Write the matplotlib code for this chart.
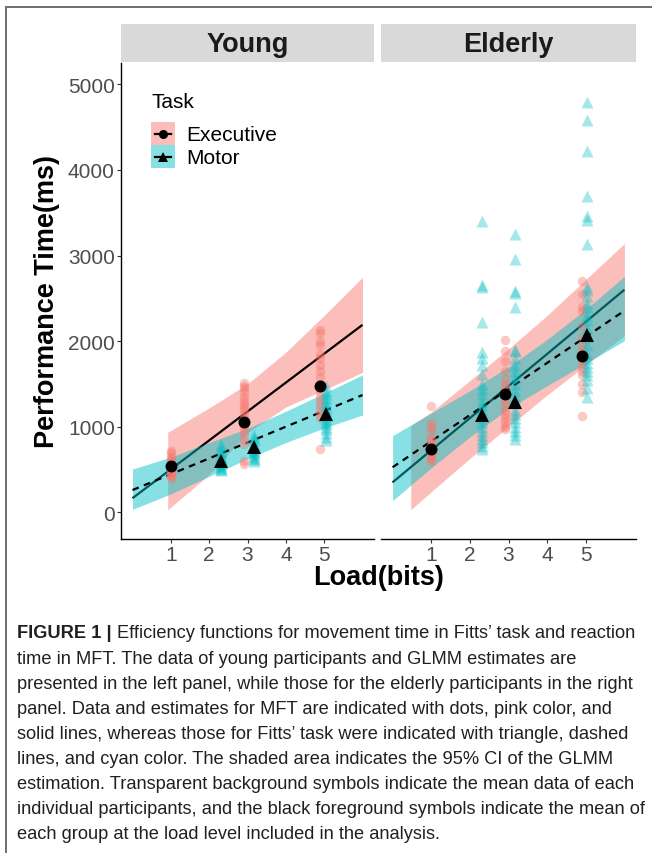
import matplotlib
matplotlib.use('Agg')
import matplotlib.pyplot as plt
from matplotlib.patches import Rectangle
from matplotlib.lines import Line2D
from matplotlib import font_manager as fm

# ---------------- data ----------------
panels = ["Young", "Elderly"]
tasks = ["Executive", "Motor"]

exec_loads = [1.0, 2.9, 4.9]
motor_loads = [2.32, 3.17, 5.04]

# group means (black symbols)
young_exec_means = [537, 1059, 1472]
young_motor_means = [603, 759, 1148]
elderly_exec_means = [740, 1382, 1822]
elderly_motor_means = [1137, 1285, 2071]

# individual participant means (transparent symbols), one list per load level
young_exec_ind = [
    [720, 690, 650, 620, 600, 580, 560, 540, 520, 500, 490, 470, 450, 440, 420, 400],
    [1510, 1480, 1450, 1400, 1350, 1300, 1270, 1230, 1200, 1150, 1100, 1050, 1000, 950, 900, 850, 800, 600, 570],
    [2130, 2100, 2000, 1950, 1850, 1800, 1720, 1650, 1580, 1500, 1450, 1400, 1350, 1300, 1250, 1200, 1150, 1100, 740],
]
young_motor_ind = [
    [800, 760, 720, 690, 660, 640, 620, 600, 580, 560, 540, 520, 500, 490],
    [900, 870, 840, 800, 780, 760, 740, 720, 700, 680, 660, 640, 620, 600],
    [1480, 1420, 1380, 1330, 1290, 1250, 1220, 1180, 1150, 1120, 1090, 1060, 1030, 1000, 970, 930, 880, 840],
]
elderly_exec_ind = [
    [1240, 1040, 1000, 960, 880, 840, 800, 770, 740, 720, 700, 680, 650, 620, 600],
    [2010, 1890, 1770, 1650, 1560, 1500, 1450, 1400, 1350, 1300, 1250, 1200, 1150, 1100, 1050, 1000, 970],
    [2700, 2550, 2400, 2350, 2180, 2050, 1950, 1900, 1850, 1800, 1750, 1700, 1650, 1600, 1500, 1400, 1120],
]
elderly_motor_ind = [
    [3400, 2650, 2630, 2220, 1870, 1800, 1720, 1620, 1500, 1440, 1380, 1300, 1250, 1200, 1150, 1100,
     1050, 1000, 950, 900, 860, 820, 780, 740],
    [3250, 2960, 2590, 2560, 2400, 1900, 1880, 1800, 1720, 1650, 1580, 1500, 1420, 1350, 1280, 1200,
     1150, 1100, 1050, 1000, 950, 900, 860],
    [4790, 4580, 4220, 3700, 3460, 3420, 3130, 2630, 2600, 2530, 2450, 2400, 2300, 2250, 2150, 2050,
     1950, 1850, 1800, 1750, 1700, 1650, 1600, 1550, 1450, 1350],
]

# GLMM fitted lines (value at load 0 and load 6)
fit_x = [0, 6]
young_exec_fit = [165, 2190]
young_motor_fit = [260, 1370]
elderly_exec_fit = [350, 2600]
elderly_motor_fit = [526, 2355]

# 95% CI bands
young_exec_band_x = [0.92, 2, 3, 4, 5, 6]
young_exec_upper = [935, 1220, 1500, 1870, 2300, 2745]
young_exec_lower = [30, 440, 930, 1230, 1430, 1635]
young_motor_band_x = [0, 1, 2, 3, 4, 5, 6]
young_motor_upper = [505, 645, 815, 980, 1180, 1390, 1605]
young_motor_lower = [35, 215, 420, 625, 815, 985, 1137]

elderly_exec_band_x = [0.47, 1, 2, 3, 4, 5, 6]
elderly_exec_upper = [1012, 1170, 1540, 1910, 2300, 2720, 3140]
elderly_exec_lower = [30, 240, 630, 1000, 1370, 1720, 2065]
elderly_motor_band_x = [0, 1, 2, 3, 4, 5, 6]
elderly_motor_upper = [895, 1160, 1420, 1700, 2020, 2370, 2757]
elderly_motor_lower = [136, 520, 880, 1210, 1480, 1740, 2005]

x_ticks = [1, 2, 3, 4, 5]
y_ticks = [0, 1000, 2000, 3000, 4000, 5000]

caption_lines = [
    "Efficiency functions for movement time in Fitts\u2019 task and reaction",
    "time in MFT. The data of young participants and GLMM estimates are",
    "presented in the left panel, while those for the elderly participants in the right",
    "panel. Data and estimates for MFT are indicated with dots, pink color, and",
    "solid lines, whereas those for Fitts\u2019 task were indicated with triangle, dashed",
    "lines, and cyan color. The shaded area indicates the 95% CI of the GLMM",
    "estimation. Transparent background symbols indicate the mean data of each",
    "individual participants, and the black foreground symbols indicate the mean of",
    "each group at the load level included in the analysis.",
]
caption_head = "FIGURE 1 | "

# ---------------- style ----------------
PINK = "#F8766D"
CYAN = "#00BFC4"
SANS = "Liberation Sans"
W, H = 652, 854

fig = plt.figure(figsize=(W / 100, H / 100), dpi=100)
fig.patch.set_facecolor("white")


def fx(px):
    return px / W


def fy(py):
    return 1 - py / H


# outer frame (left and top)
fig.add_artist(Line2D([fx(6), fx(6)], [fy(8), 0], transform=fig.transFigure, color="#6e6e6e", lw=1.4))
fig.add_artist(Line2D([fx(6), 1], [fy(8), fy(8)], transform=fig.transFigure, color="#6e6e6e", lw=1.4))

panel_px = {"Young": (121, 374), "Elderly": (381, 636)}
top_px, bot_px = 64, 540

data = {
    "Young": dict(
        exec_means=young_exec_means, motor_means=young_motor_means,
        exec_ind=young_exec_ind, motor_ind=young_motor_ind,
        exec_fit=young_exec_fit, motor_fit=young_motor_fit,
        exec_bx=young_exec_band_x, exec_up=young_exec_upper, exec_lo=young_exec_lower,
        motor_bx=young_motor_band_x, motor_up=young_motor_upper, motor_lo=young_motor_lower),
    "Elderly": dict(
        exec_means=elderly_exec_means, motor_means=elderly_motor_means,
        exec_ind=elderly_exec_ind, motor_ind=elderly_motor_ind,
        exec_fit=elderly_exec_fit, motor_fit=elderly_motor_fit,
        exec_bx=elderly_exec_band_x, exec_up=elderly_exec_upper, exec_lo=elderly_exec_lower,
        motor_bx=elderly_motor_band_x, motor_up=elderly_motor_upper, motor_lo=elderly_motor_lower),
}

BAND_ALPHA = 0.47
for name in panels:
    l, r = panel_px[name]
    ax = fig.add_axes([fx(l), fy(bot_px), fx(r) - fx(l), fy(top_px) - fy(bot_px)])
    d = data[name]
    ax.fill_between(d["exec_bx"], d["exec_lo"], d["exec_up"], color=PINK, alpha=BAND_ALPHA, lw=0, zorder=1)
    ax.plot(fit_x, d["exec_fit"], color="black", lw=1.6, solid_capstyle="butt", zorder=2)
    ax.fill_between(d["motor_bx"], d["motor_lo"], d["motor_up"], color=CYAN, alpha=BAND_ALPHA, lw=0, zorder=3)
    ax.plot(fit_x, d["motor_fit"], color="black", lw=1.6, ls=(0, (3, 2.5)), zorder=4)
    for xl, vals in zip(exec_loads, d["exec_ind"]):
        ax.plot([xl] * len(vals), vals, ls="none", marker="o", ms=6.8, mec="none", mfc=PINK, alpha=0.4, zorder=5)
    for xl, vals in zip(motor_loads, d["motor_ind"]):
        ax.plot([xl] * len(vals), vals, ls="none", marker="^", ms=8.8, mec="none", mfc=CYAN, alpha=0.35, zorder=6)
    ax.plot(exec_loads, d["exec_means"], ls="none", marker="o", ms=8.6, mfc="black", mec="black", mew=0, zorder=7)
    ax.plot(motor_loads, d["motor_means"], ls="none", marker="^", ms=10.0, mfc="black", mec="black", mew=0, zorder=7)

    ax.set_xlim(-0.3, 6.3)
    ax.set_ylim(-312, 5249)
    ax.set_xticks(x_ticks)
    ax.set_xticklabels([str(t) for t in x_ticks], fontsize=15, family=SANS, color="#4d4d4d")
    for s in ("top", "right"):
        ax.spines[s].set_visible(False)
    ax.spines["bottom"].set_linewidth(1.0)
    ax.spines["left"].set_linewidth(1.0)
    ax.tick_params(axis="x", length=3, width=0.8, color="#333333", pad=1.5)
    if name == "Young":
        ax.set_yticks(y_ticks)
        ax.set_yticklabels([str(t) for t in y_ticks], fontsize=15, family=SANS, color="#4d4d4d")
        ax.tick_params(axis="y", length=3, width=0.8, color="#333333", pad=1.5)
    else:
        ax.spines["left"].set_visible(False)
        ax.set_yticks([])

    # strip
    sax = fig.add_axes([fx(l), fy(63), fx(r) - fx(l), fy(25) - fy(63)])
    sax.set_facecolor("#d9d9d9")
    sax.set_xticks([])
    sax.set_yticks([])
    for s in sax.spines.values():
        s.set_visible(False)
    sax.text(0.5, 0.47, name, transform=sax.transAxes, ha="center", va="center",
             fontsize=19.5, fontweight="bold", family=SANS, color="#1a1a1a")

# axis titles
fig.text(fx(47), fy(302), "Performance Time(ms)", rotation=90, ha="center", va="center",
         fontsize=19.5, fontweight="bold", family=SANS, color="black")
fig.text(fx(378.5), fy(578), "Load(bits)", ha="center", va="center",
         fontsize=19.5, fontweight="bold", family=SANS, color="black")

# legend
fig.text(fx(151), fy(102), "Task", ha="left", va="center", fontsize=15, family=SANS, color="black")
key_cols = [PINK, CYAN]
key_markers = ["o", "^"]
key_ms = [6.5, 7.5]
for i, (t, c, m, ms) in enumerate(zip(tasks, key_cols, key_markers, key_ms)):
    y0 = 123 + i * 23
    fig.add_artist(Rectangle((fx(151), fy(y0 + 23)), fx(175) - fx(151), fy(y0) - fy(y0 + 23),
                             transform=fig.transFigure, facecolor=c, alpha=BAND_ALPHA, lw=0))
    yc = y0 + 11.5
    fig.add_artist(Line2D([fx(155), fx(171)], [fy(yc), fy(yc)], transform=fig.transFigure,
                          color="black", lw=1.6))
    fig.add_artist(Line2D([fx(163)], [fy(yc)], transform=fig.transFigure, ls="none",
                          marker=m, ms=ms, mfc="black", mec="black", mew=0))
    fig.text(fx(186), fy(yc + 1), t, ha="left", va="center", fontsize=15, family=SANS, color="black")

# caption
names = {f.name for f in fm.fontManager.ttflist}
cap_family = "Liberation Sans Narrow" if "Liberation Sans Narrow" in names else SANS
renderer = fig.canvas.get_renderer()
trial = 12.0
probe = fig.text(0, 0, caption_lines[7], fontsize=trial, family=cap_family)
wpx = probe.get_window_extent(renderer).width
probe.remove()
cap_size = trial * (646 - 17) / wpx
cap_color = "#231f20"
y_first = 634
dy = 25.1
for i, line in enumerate(caption_lines):
    ypx = y_first + i * dy
    xstart = fx(17)
    if i == 0:
        head = fig.text(xstart, fy(ypx), caption_head, ha="left", va="center", fontsize=cap_size,
                        fontweight="bold", family=cap_family, color=cap_color)
        hw = head.get_window_extent(renderer).width
        xstart = fx(17 + hw)
    fig.text(xstart, fy(ypx), line, ha="left", va="center", fontsize=cap_size,
             family=cap_family, color=cap_color)

fig.savefig("out.png", dpi=100, facecolor="white")
